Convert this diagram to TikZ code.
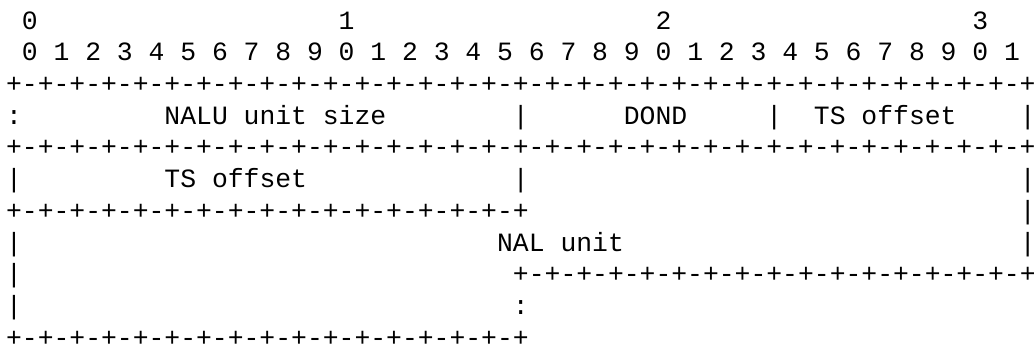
\documentclass[tikz,border=0pt]{standalone}
\usepackage{fontspec}
\newfontfamily\asciifont{Liberation Mono}

\newcommand\longedge{+-+-+-+-+-+-+-+-+-+-+-+-+-+-+-+-+-+-+-+-+-+-+-+-+-+-+-+-+-+-+-+-+}
\newcommand\shortedge{+-+-+-+-+-+-+-+-+-+-+-+-+-+-+-+-+}

\tikzset{
	cell/.style={anchor=base west, inner sep=0pt, outer sep=0pt, text depth=0pt,
		font=\asciifont\fontsize{19.8pt}{23.8pt}\selectfont},
}

\begin{document}
\begin{tikzpicture}[x=11.882pt, y=-23.775pt]
	\useasboundingbox (-0.384,0.081) rectangle (64.89,11.03);

	%bit numbers
	\foreach \d [count=\i from 0] in {0,1,2,3}
		\node[cell] (tens\i) at (1+20*\i,1) {\d};
	\foreach \b in {0,...,31}{
		\pgfmathtruncatemacro\u{mod(\b,10)}
		\node[cell] (bit\b) at (1+2*\b,2) {\u};
	}

	%first word
	\node[cell] (topedge) at (0,3) {\longedge};
	\node[cell] (colon) at (0,4) {:};
	\node[cell] (size) at (10,4) {NALU unit size};
	\node[cell] (barA) at (32,4) {|};
	\node[cell] (dond) at (39,4) {DOND};
	\node[cell] (barB) at (48,4) {|};
	\node[cell] (tsA) at (51,4) {TS offset};
	\node[cell] (barC) at (64,4) {|};
	\node[cell] (midedge) at (0,5) {\longedge};

	%second word
	\node[cell] (barD) at (0,6) {|};
	\node[cell] (tsB) at (10,6) {TS offset};
	\node[cell] (barE) at (32,6) {|};
	\node[cell] (barF) at (64,6) {|};
	\node[cell] (tsedge) at (0,7) {\shortedge};
	\node[cell] (barG) at (64,7) {|};

	%NAL unit
	\node[cell] (barH) at (0,8) {|};
	\node[cell] (nal) at (31,8) {NAL unit};
	\node[cell] (barI) at (64,8) {|};
	\node[cell] (barJ) at (0,9) {|};
	\node[cell] (naledge) at (32,9) {\shortedge};
	\node[cell] (barK) at (0,10) {|};
	\node[cell] (more) at (32,10) {:};
	\node[cell] (botedge) at (0,11) {\shortedge};
\end{tikzpicture}
\end{document}
